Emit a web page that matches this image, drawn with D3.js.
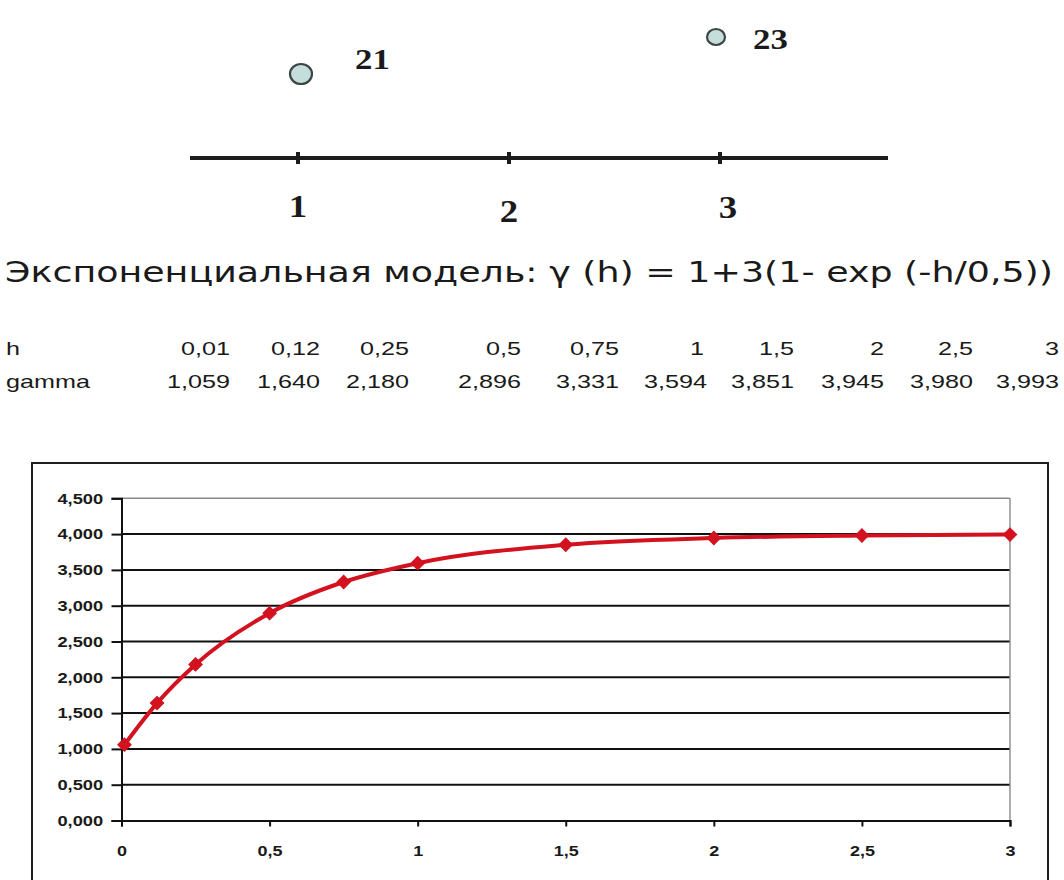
<!DOCTYPE html>
<html>
<head>
<meta charset="utf-8">
<script src="https://cdn.jsdelivr.net/npm/d3@7"></script>
<style>
  html, body { margin: 0; padding: 0; background: #ffffff; }
  svg { display: block; }
</style>
</head>
<body>
<svg id="chart" width="1064" height="880"></svg>
<script>
// ---------------- data ----------------
const axisPoints = [1, 2, 3];
const sampleLocations = [1, 3];
const sampleValues = [21, 23];

const titleText = "Экспоненциальная модель: γ (h) = 1+3(1- exp (-h/0,5))";

const rowLabels = ["h", "gamma"];
const hValues = [0.01, 0.12, 0.25, 0.5, 0.75, 1, 1.5, 2, 2.5, 3];
const hLabels = ["0,01", "0,12", "0,25", "0,5", "0,75", "1", "1,5", "2", "2,5", "3"];
const gammaValues = [1.059, 1.640, 2.180, 2.896, 3.331, 3.594, 3.851, 3.945, 3.980, 3.993];
const gammaLabels = ["1,059", "1,640", "2,180", "2,896", "3,331", "3,594", "3,851", "3,945", "3,980", "3,993"];

const yTicks = [0, 0.5, 1, 1.5, 2, 2.5, 3, 3.5, 4, 4.5];
const yTickLabels = ["0,000", "0,500", "1,000", "1,500", "2,000", "2,500", "3,000", "3,500", "4,000", "4,500"];
const xTicks = [0, 0.5, 1, 1.5, 2, 2.5, 3];
const xTickLabels = ["0", "0,5", "1", "1,5", "2", "2,5", "3"];

// ---------------- layout ----------------
const svg = d3.select("#chart");
const red = "#d3121f";

// ---- top diagram: sample locations on a line ----
const locX = d3.scaleLinear().domain([1, 3]).range([298, 720]);
const valY = d3.scaleLinear().domain([21, 23]).range([74, 37]);

svg.append("line")
  .attr("x1", 190).attr("x2", 888)
  .attr("y1", 158).attr("y2", 158)
  .attr("stroke", "#1c1c1c").attr("stroke-width", 4);

const topAxis = svg.append("g");
topAxis.selectAll("line.tk").data(axisPoints).join("line")
  .attr("class", "tk")
  .attr("x1", d => locX(d)).attr("x2", d => locX(d))
  .attr("y1", 152).attr("y2", 164)
  .attr("stroke", "#1c1c1c").attr("stroke-width", 4);

const labelDy = [217, 222, 218];
topAxis.selectAll("text").data(axisPoints).join("text")
  .attr("transform", (d, i) => `translate(${locX(d) + (i === 2 ? 8 : 0)},${labelDy[i]}) scale(1.15,1)`)
  .attr("text-anchor", "middle")
  .attr("font-family", "'Liberation Serif', serif")
  .attr("font-weight", "bold")
  .attr("font-size", 32)
  .attr("fill", "#1a1a1a")
  .text(d => d);

const samples = svg.append("g");
const radius = [11, 9];
samples.selectAll("ellipse").data(sampleLocations).join("ellipse")
  .attr("cx", (d, i) => locX(d) + (i === 0 ? 3 : -4))
  .attr("cy", (d, i) => valY(sampleValues[i]))
  .attr("rx", (d, i) => radius[i])
  .attr("ry", (d, i) => radius[i] - 1)
  .attr("fill", "#c6dedb")
  .attr("stroke", "#3b4745")
  .attr("stroke-width", 2.2);

samples.selectAll("text").data(sampleLocations).join("text")
  .attr("transform", (d, i) => `translate(${locX(d) + (i === 0 ? 57 : 33)},${valY(sampleValues[i]) + (i === 0 ? -5 : 12)}) scale(1.2,1)`)
  .attr("font-family", "'Liberation Serif', serif")
  .attr("font-weight", "bold")
  .attr("font-size", 29)
  .attr("fill", "#1a1a1a")
  .text((d, i) => sampleValues[i]);

// ---- title ----
svg.append("text")
  .attr("x", 5).attr("y", 282)
  .attr("font-family", "'DejaVu Sans', sans-serif")
  .attr("font-size", 28)
  .attr("fill", "#1a1a1a")
  .attr("textLength", 1048)
  .attr("lengthAdjust", "spacingAndGlyphs")
  .text(titleText);

// ---- table ----
const colRight = [230, 320, 409, 521, 619, 707, 794, 884, 973, 1059];
const rowY = [355, 388];
const tbl = svg.append("g")
  .attr("font-family", "'Liberation Sans', Arial, sans-serif")
  .attr("font-size", 18)
  .attr("fill", "#1a1a1a");

tbl.selectAll("text.rl").data(rowLabels).join("text")
  .attr("class", "rl")
  .attr("transform", (d, i) => `translate(6,${rowY[i]}) scale(1.4,1)`)
  .text(d => d);

tbl.selectAll("text.h").data(hLabels).join("text")
  .attr("class", "h")
  .attr("text-anchor", "end")
  .attr("transform", (d, i) => `translate(${colRight[i] - (i === 5 ? 3 : 0)},${rowY[0]}) scale(1.4,1)`)
  .text(d => d);

tbl.selectAll("text.g").data(gammaLabels).join("text")
  .attr("class", "g")
  .attr("text-anchor", "end")
  .attr("transform", (d, i) => `translate(${colRight[i]},${rowY[1]}) scale(1.4,1)`)
  .text(d => d);

// ---- chart frame ----
svg.append("rect")
  .attr("x", 32).attr("y", 463)
  .attr("width", 1016).attr("height", 440)
  .attr("fill", "#ffffff")
  .attr("stroke", "#1e1e1e").attr("stroke-width", 2);

const x = d3.scaleLinear().domain([0, 3]).range([121.5, 1010]);
const y = d3.scaleLinear().domain([0, 4.5]).range([820.5, 498.3]);

const plot = svg.append("g");

// gridlines
plot.selectAll("line.grid").data(yTicks.filter(v => v > 0)).join("line")
  .attr("class", "grid")
  .attr("x1", x(0)).attr("x2", x(3))
  .attr("y1", d => y(d)).attr("y2", d => y(d))
  .attr("stroke", d => d === 4.5 ? "#8a8a8a" : "#111111")
  .attr("stroke-width", d => d === 4.5 ? 1.4 : 2);

// right border of plot area
plot.append("line")
  .attr("x1", x(3)).attr("x2", x(3))
  .attr("y1", y(4.5)).attr("y2", y(0))
  .attr("stroke", "#8a8a8a").attr("stroke-width", 1.4);

// y axis
const yAxis = d3.axisLeft(y)
  .tickValues(yTicks)
  .tickFormat((d, i) => yTickLabels[i])
  .tickSize(10)
  .tickPadding(5);

const gy = plot.append("g")
  .attr("transform", `translate(${x(0)},0)`)
  .call(yAxis);
gy.select(".domain").attr("stroke", "#111").attr("stroke-width", 2);
gy.selectAll(".tick line").attr("stroke", "#111").attr("stroke-width", 2);
gy.selectAll(".tick text")
  .attr("font-family", "'Liberation Sans', Arial, sans-serif")
  .attr("font-size", 15)
  .attr("font-weight", "bold")
  .attr("fill", "#1a1a1a")
  .attr("transform", "scale(1.22,1)");

// x axis
const xAxis = d3.axisBottom(x)
  .tickValues(xTicks)
  .tickFormat((d, i) => xTickLabels[i])
  .tickSize(6)
  .tickPadding(19);

const gx = plot.append("g")
  .attr("transform", `translate(0,${y(0)})`)
  .call(xAxis);
gx.select(".domain").attr("stroke", "#111").attr("stroke-width", 2);
gx.selectAll(".tick line").attr("stroke", "#111").attr("stroke-width", 2);
gx.selectAll(".tick text")
  .attr("font-family", "'Liberation Sans', Arial, sans-serif")
  .attr("font-size", 15)
  .attr("font-weight", "bold")
  .attr("fill", "#1a1a1a")
  .attr("transform", "scale(1.2,1)");

// series
const pts = hValues.map((h, i) => [h, gammaValues[i]]);
const line = d3.line()
  .x(d => x(d[0]))
  .y(d => y(d[1]))
  .curve(d3.curveMonotoneX);

plot.append("path")
  .datum(pts)
  .attr("d", line)
  .attr("fill", "none")
  .attr("stroke", red)
  .attr("stroke-width", 4)
  .attr("stroke-linejoin", "round");

plot.selectAll("path.mk").data(pts).join("path")
  .attr("class", "mk")
  .attr("transform", d => `translate(${x(d[0])},${y(d[1])}) rotate(45)`)
  .attr("d", d3.symbol(d3.symbolSquare, 90)())
  .attr("fill", red)
  .attr("stroke", red)
  .attr("stroke-width", 1);
</script>
</body>
</html>
